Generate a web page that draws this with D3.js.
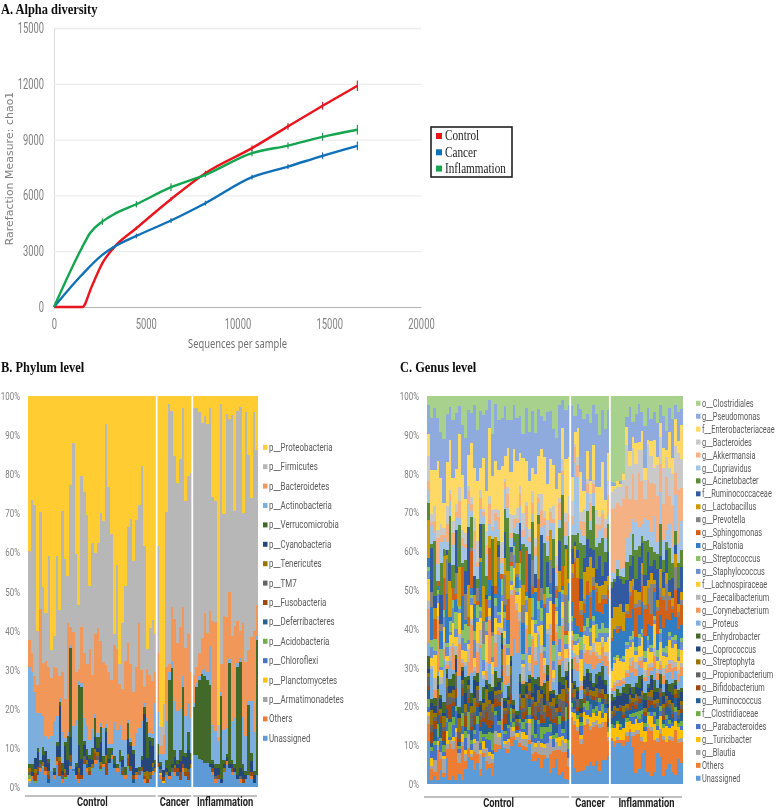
<!DOCTYPE html>
<html><head><meta charset="utf-8">
<style>
html,body{margin:0;padding:0;background:#fff}
svg{display:block}
text{font-family:"Roboto","Noto Sans",sans-serif}
</style>
<script src="https://cdn.jsdelivr.net/npm/d3@7/dist/d3.min.js"></script>
</head><body>
<svg id="c" width="778" height="809"></svg>
<script>
// ---------- Panel A values ----------
const seqControl=[0,400,1550,2050,2633,3233,4487,6376,8247,10790,12752,14640,16530];
const chaoControl=[0,0,0,1095,2350,3160,4235,5795,7195,8540,9710,10820,11895];
const errControl=[0,0,0,0,60,60,90,110,130,150,180,210,280];
const seqCancer=[0,1509,2633,3233,4487,6376,8247,10790,12752,14640,16530];
const chaoCancer=[0,1720,2800,3210,3820,4650,5580,6980,7550,8130,8665];
const errCancer=[0,40,60,60,130,130,130,130,130,180,230];
const seqInflam=[0,1509,1960,2633,3200,4487,6376,8247,10790,12752,14640,16530];
const chaoInflam=[0,3160,3965,4590,4950,5525,6440,7105,8270,8680,9150,9530];
const errInflam=[0,100,0,170,0,170,210,130,170,170,210,260];
const xTicksA=[0,5000,10000,15000,20000];
const yTicksA=[0,3000,6000,9000,12000,15000];
const legendA=["Control","Cancer","Inflammation"];
const coloursA=["#e8141c","#0f6fb8","#12a550"];
const groups=["Control","Cancer","Inflammation"];
const groupSizes=[47,13,24];
const pctTicks=[0,10,20,30,40,50,60,70,80,90,100];

// ---------- Panel B values (one per sample, % of reads; bottom of stack first) ----------
const phylumNames=["Unassigned","Others","p__Armatimonadetes","p__Planctomycetes","p__Chloroflexi","p__Acidobacteria","p__Deferribacteres","p__Fusobacteria","p__TM7","p__Tenericutes","p__Cyanobacteria","p__Verrucomicrobia","p__Actinobacteria","p__Bacteroidetes","p__Firmicutes","p__Proteobacteria"];
const phylumColours=["#5B9BD5","#ED7D31","#A5A5A5","#FFC000","#4472C4","#70AD47","#255E91","#9E480E","#636363","#997300","#264478","#43682B","#7CAFDD","#F1975A","#B7B7B7","#FFCD33"];
const pUnassigned=[1,2,1,3,4,5,3,1,4,2,6,3,1,2,3,5,4,2,1,2,6,4,3,5,6,7,4,5,3,6,7,5,4,6,3,2,5,4,1,2,3,4,1,1,2,3,4,
5,2,1,3,2,4,3,3,2,4,3,2,5,
8,8,7,7,6,6,5,3,1,2,1,4,6,5,3,4,2,1,1,2,3,2,1,3];
const pOthers=[0,1,0,0,1,0,1,0,0,1,1,0,1,0,0,1,0,1,1,0,0,1,0,0,1,0,0,1,0,0,1,0,1,0,0,1,0,0,0,1,0,0,1,0,0,1,0,
0,1,0,0,1,0,1,0,0,1,0,0,0,
0,0,0,0,0,0,0,1,1,0,0,0,1,0,1,0,0,1,0,0,0,1,0,0];
const pArmat=[0.5,0,0,0,0,0.5,0,0,0,0,0,0,0,0,0,0,0,0,0,0,0,0,0,0,0,0,0,0,0,0,0,0,0,0,0,0,0,0,0,0,0,0,0,0,0,0,0,
0,0,0,0,0,0,0,0,0,0,0,0,0,
0,0,0,0,0,0,0,0,0,0,0,0,0,0,0,0,0,0,0,0,0,0,0,0];
const pPlanct=[0.5,0,0,0,0,0,0,0,0,0,0,0,0,0,0,0,0,0,0,0,0,0,0,0,0,0,0,0,0,0,0,0,0,0,0,0,0,0,0,0,0,0,0,0,0,0,0,
0,0.5,0.5,0,0,0,0,0,0,0,0,0,0,
0,0,0,0,0,0,0,0,0,0,0,0,0,0,0,0,0,0,0,0,0,0,0,0];
const pChloro=[0,0,0,0,0,0,0,0,0,0,0,0,0,0,0,0,0.5,0,0,0,0,0,0,0,0,0,0,0,0,0,0,0,0,0,0,0,0,0,0,0,0,0,0,0,0,0,0,
0,0,0,0,0,0,0,0,0,0,0,0,0,
0,0,0,0,0,0,0,0,0,0,0,0,0,0,0,0,0,0,0,0,0,0,0,0];
const pAcido=[1,0,0.5,0,0,0,0,0,0,0,0,0,0,0.5,0,0,0,0,0,0,0,0,0,0,0,0,0.5,0,0,0,0,0,0,0,0,0,0.5,0,0,0,0,0,0,0,0,0,0,
0,0,0,0,0,0,0,0,0,0,0,0,0,
0,0,0,0,0,0,0,0,0,0,0,0,0,0,0,0,0,0,0,0,0,0,0,0];
const pDeferri=[0,0,0,1,0,0,0,1,0,0,0,0,0,0,0,1,0,0,0,0,0,1,0,0,0,0,0,0,0,0,1,0,0,0,0,0,0,0,1,0,0,0,0,0,0,1,0,
0,0,0,0,0,0,0,1,0,0,0,0,0,
0,0,0,0,0,0,0,0,0,0,0,0,0,0,0,0,0,0,0,0,0,0,0,0];
const pFuso=[0,0,2,1,0,0,1,1,0,0,1,4,0,1,0,2,0,0,2,1,1,0,1,0,2,0,1,0,3,0,0,0,0,0,1,0,2,1,1,0,0,1,1,1,0,0,0,
1,0,1,0,0,0,1,1,2,1,1,2,0,
0,0,0,0,0,0,0,1,0,1,0,0,0,0,1,0,0,0,1,0,0,1,0,0];
const pTM7=[1,0,0,0,1,0,0,0,0,0,0,0,1,0,0,0,0,0,0,0,1,0,0,0,0,1,0,0,0,0,0,0,0,0,1,0,0,0,0,0,1,0,0,0,1,0,0,
0,1,0,0,0,1,0,0,0,0,0,1,0,
0,0,0,0,0,0,0,0,1,0,0,0,0,0,0,0,0,1,0,0,0,0,0,0];
const pTeneri=[1,0,1,0,0,1,0,1,0,0,0,1,0,1,0,0,0,0,1,0,0,1,1,1,1,1,1,0,2,0,0,0,0,0,0,0,1,0,0,1,0,0,1,2,1,1,1,
0,0,0,1,0,0,1,0,0,0,1,0,1,
0,0,0,0,0,0,0,0,0,0,0,1,0,0,0,0,0,0,0,0,0,0,0,0];
const pCyano=[0,1,3,4,0,2,4,2,0,1,3,14,1,6,4,5,0,2,6,4,3,1,2,1,3,1,5,0,6,1,0,1,0,0,2,0,4,5,5,1,0,2,15,3,8,4,1,
2,1,2,1,1,1,2,1,3,2,3,5,1,
0,0,0,0,0,0,1,1,2,2,1,1,1,1,1,1,1,2,2,1,0,3,2,0];
const pVerruco=[1,2,0,1,1,2,0,1,0,1,1,1,2,1,6,25,0,1,16,18,1,2,1,3,5,3,4,2,1,3,1,2,1,3,1,2,4,1,1,0,1,1,2,9,1,2,1,
3,1,0,2,24,25,2,1,3,18,1,5,2,
12,17,20,22,22,21,20,1,1,1,20,1,1,27,1,1,28,28,2,1,18,2,1,35];
const pActino=[25,24,17,9,12,8,4,5,9,12,7,1,8,1,1,1,11,11,1,1,6,6,4,5,1,1,1,7,1,1,1,9,9,6,4,7,1,1,1,9,10,9,1,1,1,1,15,
8,2,4,10,2,2,13,13,11,3,10,8,9,
1,1,1,1,2,2,10,9,9,6,1,8,7,1,10,12,1,1,12,9,1,14,10,1];
const pBacter=[7,5,4,7,27,14,19,18,15,14,13,6,15,10,28,5,24,12,3,14,17,16,23,14,21,27,21,17,15,18,16,20,21,10,13,20,20,18,13,17,27,13,4,12,15,13,8,
15,2,5,14,2,14,22,18,22,18,18,19,12,
7,4,6,8,14,10,9,27,29,1,7,30,30,18,22,24,11,7,24,19,13,17,26,8];
const pFirmi=[23,40,44,14,25,20,12,28,7,8,30,18,41,36,12,40,48,30,17,38,42,39,16,34,21,22,33,36,61,47,37,3,22,5,17,19,30,35,32,38,30,52,37,5,12,15,10,
27,5,8,40,68,51,44,42,45,52,39,43,52,
67,65,61,55,50,53,52,32,32,3,63,27,55,46,57,30,54,59,28,64,50,37,56,40];
const pProteo=[40,27,28,60,30,50,55,40,65,62,43,58,29,42,46,25,12,40,55,20,25,31,48,38,41,38,30,32,7,23,35,62,44,65,58,48,34,30,40,32,28,18,39,62,60,55,62,
38,85,80,30,2,4,16,23,17,3,28,22,20,
3,3,4,7,5,7,3,26,28,85,2,31,5,6,5,30,4,3,30,4,15,27,4,14];

// ---------- Panel C values (bottom of stack first) ----------
const genusNames=["Unassigned","Others","g__Blautia","g__Turicibacter","g__Parabacteroides","f__Clostridiaceae","g__Ruminococcus","g__Bifidobacterium","g__Propionibacterium","o__Streptophyta","g__Coprococcus","g__Enhydrobacter","g__Proteus","g__Corynebacterium","g__Faecalibacterium","f__Lachnospiraceae","g__Staphylococcus","g__Streptococcus","g__Ralstonia","g__Sphingomonas","g__Prevotella","g__Lactobacillus","f__Ruminococcaceae","g__Acinetobacter","g__Cupriavidus","g__Akkermansia","g__Bacteroides","f__Enterobacteriaceae","g__Pseudomonas","o__Clostridiales"];
const genusColours=["#5B9BD5","#ED7D31","#A5A5A5","#FFC000","#4472C4","#70AD47","#255E91","#9E480E","#636363","#997300","#264478","#43682B","#7CAFDD","#F1975A","#B7B7B7","#FFCD33","#698ED0","#8CC168","#327DC2","#D26012","#848484","#CC9A00","#335AA1","#5A8A39","#A3C4E5","#F4B183","#C9C9C9","#FFD966","#8FAADC","#A9D18E"];
const gUnassigned=[10,1,2,1,4,2,6,1,2,1,3,1,4,6,7,3,5,2,7,3,4,2,8,9,10,11,9,8,10,12,9,10,8,10,6,5,6,4,7,5,3,4,6,2,3,1,1,
6,4,3,3,3,4,5,4,5,3,5,5,6,
13,12,13,13,12,12,14,10,3,4,8,9,3,2,3,8,6,2,4,5,3,2,6,5];
const gOthers=[4,3,1,7,3,1,2,10,7,10,3,8,2,2,1,4,2,2,1,2,1,3,2,1,2,0,1,2,1,0,1,1,1,1,2,2,1,3,1,0,5,4,2,6,5,6,3,
8,11,10,6,10,9,7,9,8,10,7,8,3,
1,2,1,1,2,2,1,3,11,9,3,2,11,12,8,3,5,9,7,6,8,10,4,5];
const gBlautia=[2,1,3,1,2,4,1,1,2,1,3,1,2,3,1,2,3,4,1,3,2,1,3,2,4,1,2,2,1,1,3,2,2,4,3,1,3,2,2,3,4,1,2,1,3,2,2,
0,1,1,1,0,1,1,1,1,1,1,0,1,
0,0,1,0,0,1,0,1,1,1,1,0,1,1,0,1,1,1,0,1,1,0,1,1];
const gTuricibacter=[1,2,0,1,0,1,3,0,1,1,0,2,1,0,1,1,0,1,2,0,1,1,0,1,0,1,1,0,1,1,0,2,1,1,0,1,0,1,1,0,1,0,1,2,1,1,0,
1,2,2,1,3,1,2,2,1,3,1,2,1,
3,4,4,3,4,3,2,2,3,2,4,3,2,3,4,2,3,2,4,2,3,2,3,2];
const gParab=[1,2,4,1,3,1,2,1,3,4,1,2,3,1,2,1,4,2,1,2,3,1,4,2,1,2,3,1,0,1,2,1,3,1,2,1,4,1,3,2,1,2,0,3,1,4,2,
1,1,0,2,1,1,3,0,1,2,1,1,0,
0,1,0,1,0,0,1,2,1,1,2,1,0,1,2,1,1,0,2,1,1,2,0,1];
const gClostridiaceae=[2,1,1,3,1,2,1,4,2,1,1,3,2,4,1,1,2,3,1,1,2,4,1,1,2,1,1,3,1,0,1,2,1,2,4,1,1,3,2,1,2,1,1,2,1,3,2,
1,0,1,1,1,2,0,1,1,1,2,0,1,
1,0,1,1,0,1,1,1,1,2,1,1,1,0,1,2,1,1,1,1,0,1,1,1];
const gRuminococcus=[2,1,3,2,4,1,2,1,3,2,1,4,1,2,3,1,2,1,3,2,1,2,1,4,1,2,3,1,1,0,2,1,1,2,1,3,2,1,1,2,1,3,2,1,2,1,5,
1,2,1,1,0,1,1,2,1,0,1,1,1,
2,3,3,4,3,2,1,2,1,2,3,2,1,2,1,3,2,1,2,3,1,2,1,2];
const gBifido=[1,3,2,1,2,3,1,4,1,2,1,2,3,1,1,2,1,2,1,3,2,1,2,1,1,3,1,2,0,1,1,2,1,1,3,1,1,2,1,2,3,1,2,1,1,2,4,
1,0,1,0,1,1,0,1,0,1,1,0,1,
0,1,0,1,1,0,2,1,1,1,0,1,2,1,1,0,1,1,1,0,1,1,0,1];
const gPropioni=[2,2,1,3,1,1,4,2,1,3,2,1,1,2,4,1,3,1,2,1,4,2,1,2,1,1,2,4,1,1,2,1,3,1,1,2,1,4,2,1,1,3,1,2,4,1,2,
1,1,2,0,1,1,1,0,1,1,0,1,1,
1,1,0,1,1,1,1,0,1,1,1,0,1,1,0,1,1,2,1,1,1,0,1,1];
const gStreptophyta=[1,4,1,2,1,3,2,1,2,1,4,1,2,1,2,3,1,1,2,4,1,2,1,1,3,1,1,2,1,1,1,3,1,2,1,1,3,1,2,4,1,2,1,1,3,2,1,
1,2,0,1,1,0,1,1,2,0,1,1,1,
1,1,1,0,2,1,1,1,2,0,1,1,1,2,1,1,0,1,1,1,2,1,1,1];
const gCoprococcus=[1,2,2,1,3,1,1,2,1,3,1,2,3,1,1,4,1,2,1,1,2,3,1,2,1,2,1,1,1,1,3,1,2,1,1,4,1,1,3,1,2,1,1,3,1,1,4,
3,1,2,1,2,3,2,1,1,3,2,2,1,
3,2,4,3,4,3,2,1,2,2,3,2,1,3,2,2,1,2,3,2,2,1,3,2];
const gEnhydro=[3,1,2,2,1,3,1,2,3,1,2,1,4,1,3,1,2,1,3,1,2,1,4,1,2,1,3,1,1,1,2,3,1,1,4,1,2,1,3,2,1,1,2,4,2,1,2,
2,1,1,2,1,1,2,1,2,1,3,1,2,
2,1,2,1,2,3,1,2,1,3,1,2,1,1,3,1,2,1,1,2,3,1,2,1];
const gProteus=[3,8,0,1,3,12,0,5,1,0,9,0,3,0,6,1,0,14,2,0,5,0,1,11,0,4,1,0,14,16,13,0,7,1,0,3,10,0,1,6,0,2,12,0,4,0,1,
2,3,4,2,3,1,2,3,2,2,1,3,4,
1,2,1,2,1,2,3,4,2,3,2,3,2,1,3,2,1,2,2,3,1,2,2,3];
const gCoryne=[8,0,2,12,0,3,1,0,6,0,9,1,0,3,14,0,5,1,0,2,11,0,6,1,0,12,2,13,11,12,0,1,6,0,10,1,0,8,2,0,15,0,3,1,9,0,2,
2,3,2,1,2,3,2,4,2,1,3,2,3,
1,2,1,2,1,1,2,3,2,1,2,1,2,1,3,2,1,2,1,2,3,1,2,2];
const gFaecali=[2,1,3,1,2,2,1,4,1,2,3,1,1,3,2,1,2,4,1,2,1,3,2,1,1,2,3,1,1,2,2,4,1,2,1,3,1,2,2,1,3,1,2,1,2,3,1,
1,1,2,1,2,0,1,2,1,1,1,1,2,
0,1,1,0,1,1,2,1,2,1,1,2,1,1,2,1,1,2,1,1,2,1,1,1];
const gLachno=[5,2,6,3,2,4,1,3,5,2,6,2,3,1,4,2,5,3,1,6,2,3,4,1,5,2,3,1,4,2,6,1,3,2,4,3,1,5,2,3,6,2,3,1,4,2,3,
1,2,3,5,2,3,1,4,2,3,1,2,3,
5,6,7,6,5,6,3,4,2,3,5,2,4,3,6,2,4,3,2,5,3,4,2,3];
const gStaph=[2,3,1,2,1,3,2,1,4,2,1,3,2,1,2,4,1,2,3,1,2,1,3,2,1,4,2,1,3,1,2,1,3,2,1,2,4,1,2,3,1,2,1,3,2,1,2,
2,1,1,2,1,2,3,1,1,2,1,2,1,
1,1,0,1,1,1,2,1,1,2,1,1,2,1,1,1,2,1,1,1,2,1,1,2];
const gStrepto=[1,2,3,1,5,2,1,3,2,4,1,2,5,3,1,2,3,1,4,2,1,5,2,1,3,2,1,3,2,1,4,2,1,3,5,1,2,3,1,2,1,4,2,3,1,2,5,
1,2,1,3,1,2,1,1,3,1,2,1,1,
0,1,1,0,1,1,1,2,1,1,1,2,1,1,1,2,1,1,2,1,1,1,2,1];
const gRalstonia=[2,9,0,1,5,0,11,1,0,3,0,8,1,0,2,6,0,12,0,1,4,0,1,10,0,2,7,0,1,3,0,9,1,0,1,6,0,2,11,0,3,1,0,8,1,0,4,
3,4,2,1,3,5,2,6,3,4,2,5,6,
8,9,7,9,8,7,5,6,3,5,7,4,3,5,6,4,3,5,7,3,6,4,5,3];
const gSphingo=[0,0,5,1,0,9,0,0,3,1,0,7,0,2,11,0,1,0,0,4,8,0,2,0,1,0,6,1,0,0,3,0,10,0,2,0,5,0,1,0,0,9,2,0,5,1,0,
5,14,12,4,2,3,5,1,4,2,3,1,2,
1,0,1,1,0,1,6,5,8,2,4,7,5,3,1,6,4,7,2,5,1,6,3,5];
const gPrevotella=[0,4,0,0,2,0,8,0,0,5,0,0,7,0,1,0,3,0,6,0,0,1,0,4,0,9,0,2,0,1,0,5,0,0,7,0,0,3,0,0,6,0,1,0,0,8,0,
1,1,0,1,1,0,1,2,1,0,1,1,1,
0,0,1,0,0,1,1,1,1,2,3,1,4,8,1,1,2,1,7,1,1,5,1,1];
const gLacto=[9,0,3,0,0,6,1,10,0,0,11,0,0,7,0,2,0,1,9,0,3,0,12,0,0,5,8,0,0,3,0,6,0,9,0,1,13,0,3,0,8,0,0,5,0,10,1,
2,3,5,2,6,3,8,2,1,4,2,3,2,
6,7,6,7,6,2,3,2,4,2,3,5,2,3,1,2,4,2,3,1,2,3,2,2];
const gFRumino=[0,12,3,0,8,0,1,5,0,10,0,0,6,13,0,4,0,9,0,1,0,11,0,3,0,8,0,1,0,0,7,0,0,11,0,3,0,13,0,5,0,9,0,7,0,1,0,
3,1,2,5,3,6,2,4,3,7,2,4,5,
9,8,10,8,9,7,4,6,3,9,5,3,7,2,5,8,3,4,6,3,5,2,4,6];
const gAcineto=[4,1,14,0,9,2,0,13,6,0,12,1,3,0,9,0,2,0,16,4,0,11,0,1,0,7,15,0,2,8,0,12,1,0,10,0,2,0,14,1,0,7,0,3,18,0,10,
3,2,4,8,3,6,4,10,5,3,8,2,6,
2,1,2,1,2,5,3,6,8,3,2,9,3,5,2,4,7,3,2,8,4,3,6,4];
const gCupri=[3,5,2,4,6,3,2,4,5,3,2,4,3,5,2,6,3,4,2,5,3,2,4,3,2,6,3,2,1,3,4,2,5,3,2,4,3,2,5,3,2,4,3,2,5,2,3,
2,18,14,3,2,4,2,3,2,3,2,3,2,
3,2,3,2,3,7,6,4,8,5,3,6,5,4,9,3,7,5,3,6,4,8,5,7];
const gAkker=[2,1,3,6,2,1,4,2,3,1,5,2,1,3,2,4,1,3,1,2,5,1,2,3,1,2,4,1,2,1,3,2,5,1,3,2,1,4,2,1,3,1,2,4,1,3,2,
2,4,3,2,3,2,4,2,3,1,3,2,4,
19,21,18,20,22,15,9,12,6,14,11,5,10,13,8,12,6,9,14,7,11,5,13,8];
const gBacter=[6,2,4,2,3,2,4,1,3,2,4,2,3,1,2,3,5,2,1,3,2,4,1,2,3,1,2,4,1,3,2,5,1,2,3,2,1,4,2,3,1,3,2,1,3,2,4,
3,1,2,2,3,1,2,1,3,2,1,2,3,
5,6,5,6,6,12,9,7,10,6,8,5,9,7,4,8,6,9,5,7,8,6,9,7];
const gEntero=[5,12,9,16,13,7,10,14,11,8,15,13,9,7,16,11,14,6,13,9,17,8,12,10,14,7,11,9,15,13,8,16,10,12,6,14,9,11,15,7,13,10,16,6,8,12,9,
5,3,7,9,4,6,3,8,5,7,10,4,6,
2,1,2,1,2,5,4,3,6,2,5,3,1,4,7,2,3,5,2,9,4,6,3,8];
const gPseudo=[7,14,16,10,13,18,11,9,15,13,8,12,16,10,9,14,12,15,11,18,7,10,14,13,9,15,8,11,10,12,9,7,13,12,15,9,11,8,10,14,13,9,12,16,7,11,12,
15,4,6,14,16,8,13,9,16,12,11,15,9,
1,1,0,1,0,3,12,4,8,10,5,11,8,6,7,9,4,8,5,6,10,3,7,4];
const gClostridiales=[2,6,3,5,10,12,4,3,6,4,3,7,11,3,5,2,8,4,5,3,1,9,2,6,4,3,7,5,2,6,5,11,3,9,4,8,3,5,7,3,4,8,10,2,1,3,2,
2,5,2,3,5,4,6,2,4,9,3,7,3,
26,28,27,27,25,6,3,7,5,2,4,8,3,6,4,7,2,5,9,3,6,2,4,3];

const phylumValues=[pUnassigned,pOthers,pArmat,pPlanct,pChloro,pAcido,pDeferri,pFuso,pTM7,pTeneri,pCyano,pVerruco,pActino,pBacter,pFirmi,pProteo];
const genusValues=[gUnassigned,gOthers,gBlautia,gTuricibacter,gParab,gClostridiaceae,gRuminococcus,gBifido,gPropioni,gStreptophyta,gCoprococcus,gEnhydro,gProteus,gCoryne,gFaecali,gLachno,gStaph,gStrepto,gRalstonia,gSphingo,gPrevotella,gLacto,gFRumino,gAcineto,gCupri,gAkker,gBacter,gEntero,gPseudo,gClostridiales];

const svg=d3.select("#c");
const defs=svg.append("defs");
defs.append("filter").attr("id","soft").attr("filterUnits","userSpaceOnUse").attr("x",0).attr("y",0).attr("width",778).attr("height",809)
  .append("feGaussianBlur").attr("stdDeviation",0.45);
const root=svg.append("g").attr("filter","url(#soft)");
const SERIF='"Liberation Serif",serif';

// narrow a text horizontally about an x position
const squeeze=(x,k)=>`translate(${x},0) scale(${k},1) translate(${-x},0)`;
function squeezeTicks(sel,k){sel.each(function(){const t=d3.select(this);t.attr("transform",squeeze(+t.attr("x")||0,k));});}

function title(s,x,y){root.append("text").attr("x",x).attr("y",y).style("font-family",SERIF)
  .attr("font-size",15).attr("font-weight","bold").attr("fill","#111").attr("transform",squeeze(x,0.83)).text(s);}
title("A. Alpha diversity",1,14);
title("B. Phylum level",1,372);
title("C. Genus level",400,372);

// ----- Panel A -----
const xA=d3.scaleLinear().domain([0,20000]).range([54,421]);
const yA=d3.scaleLinear().domain([0,15000]).range([307,28]);
const gy=root.append("g").attr("transform","translate(54,0)")
  .call(d3.axisLeft(yA).tickValues(yTicksA).tickSize(-367).tickPadding(10).tickFormat(d3.format("d")));
gy.select(".domain").attr("stroke","#dcdcdc");
gy.selectAll(".tick line").attr("stroke","#ececec").attr("stroke-width",1.3);
gy.selectAll("text").attr("font-size",14).attr("fill","#808080");
squeezeTicks(gy.selectAll("text"),0.67);
const gx=root.append("g").attr("transform","translate(0,307)")
  .call(d3.axisBottom(xA).tickValues(xTicksA).tickSize(0).tickPadding(12).tickFormat(d3.format("d")));
gx.select(".domain").attr("stroke","#b8b8b8").attr("stroke-width",1.2);
gx.selectAll("text").attr("font-size",14).attr("fill","#808080");
squeezeTicks(gx.selectAll("text"),0.67);
root.append("text").attr("x",237.5).attr("y",348).attr("text-anchor","middle").attr("font-size",13).attr("fill","#707070")
  .style("font-family",'"Noto Sans",sans-serif').attr("transform",squeeze(237.5,0.72)).text("Sequences per sample");
root.append("text").attr("transform","translate(13,168.5) rotate(-90)").attr("text-anchor","middle").attr("font-size",10.8).attr("fill","#808080")
  .style("font-family",'"DejaVu Sans",sans-serif').style("letter-spacing","0.1px").text("Rarefaction Measure: chao1");

const lineA=d3.line().x(d=>xA(d[0])).y(d=>yA(d[1])).curve(d3.curveMonotoneX);
const seriesA=[[seqControl,chaoControl,errControl],[seqCancer,chaoCancer,errCancer],[seqInflam,chaoInflam,errInflam]];
seriesA.forEach((s,i)=>{
  const pts=s[0].map((v,k)=>[v,s[1][k],s[2][k]]);
  root.append("g").selectAll("line").data(pts.filter(p=>p[2]>0)).join("line")
    .attr("x1",p=>xA(p[0])).attr("x2",p=>xA(p[0])).attr("y1",p=>yA(p[1]-p[2])).attr("y2",p=>yA(p[1]+p[2]))
    .attr("stroke",d3.color(coloursA[i]).darker(0.9)).attr("stroke-width",1);
  root.append("path").datum(pts).attr("d",lineA).attr("fill","none").attr("stroke",coloursA[i]).attr("stroke-width",2.4);
});
root.append("rect").attr("x",431).attr("y",127).attr("width",81).attr("height",50).attr("fill","#fff").attr("stroke","#222").attr("stroke-width",1.6);
legendA.forEach((n,i)=>{
  const y=136+i*16.3;
  root.append("rect").attr("x",436).attr("y",y-3).attr("width",6).attr("height",6).attr("fill",coloursA[i]);
  root.append("text").attr("x",445).attr("y",y+4.5).attr("font-size",14).attr("fill","#222").style("font-family",SERIF)
    .attr("transform",squeeze(445,0.8)).text(n);
});

// ----- Stacked panels -----
function stacked(values,colours,names,cfg){
  const n=values[0].length;
  const rows=d3.range(n).map(i=>{const r={i};names.forEach((nm,k)=>r[nm]=values[k][i]||0);return r;});
  const stack=d3.stack().keys(names).offset(d3.stackOffsetExpand)(rows);
  const x=d3.scaleBand().domain(d3.range(n)).range([cfg.x0,cfg.x1]).paddingInner(0).paddingOuter(0);
  const y=d3.scaleLinear().domain([0,1]).range([cfg.y0,cfg.y1]);
  const g=root.append("g").attr("shape-rendering","crispEdges");
  g.selectAll("g").data(stack).join("g").attr("fill",(d,k)=>colours[k])
    .selectAll("rect").data(d=>d).join("rect")
    .attr("x",d=>x(d.data.i)).attr("width",x.bandwidth()+0.4)
    .attr("y",d=>y(d[1])).attr("height",d=>Math.max(0,y(d[0])-y(d[1])));
  let cum=0;
  groupSizes.forEach((sz,gi)=>{
    const a=x(cum), b=cum+sz>=n?cfg.x1:x(cum+sz);
    if(gi>0) root.append("line").attr("x1",a).attr("x2",a).attr("y1",cfg.y1-1).attr("y2",cfg.y0+1).attr("stroke","#fff").attr("stroke-width",1.8);
    root.append("line").attr("x1",(gi==0?a-3:a+1)).attr("x2",b-1).attr("y1",cfg.rule).attr("y2",cfg.rule).attr("stroke","#808080").attr("stroke-width",1);
    const cx=(a+b)/2;
    root.append("text").attr("x",cx).attr("y",cfg.rule+10).attr("text-anchor","middle").attr("font-size",12).attr("font-weight","bold").attr("fill","#222")
      .attr("transform",squeeze(cx,0.78)).text(groups[gi]);
    cum+=sz;
  });
  const ya=d3.scaleLinear().domain([0,100]).range([cfg.y0,cfg.y1]);
  const ax=root.append("g").attr("transform",`translate(${cfg.tickX},0)`)
    .call(d3.axisLeft(ya).tickValues(pctTicks).tickSize(0).tickPadding(0).tickFormat(d=>d+"%"));
  ax.select(".domain").remove();
  ax.selectAll("text").attr("font-size",11).attr("fill","#808080");
  squeezeTicks(ax.selectAll("text"),0.72);
  const order=d3.range(names.length).reverse();
  order.forEach((k,r)=>{
    const yy=cfg.legY+r*cfg.legStep, tx=cfg.legX+6;
    root.append("rect").attr("x",cfg.legX).attr("y",yy-2.5).attr("width",4.5).attr("height",5).attr("fill",colours[k]);
    root.append("text").attr("x",tx).attr("y",yy+3.6).attr("font-size",11).attr("fill","#5a5a5a")
      .attr("transform",squeeze(tx,cfg.legK)).text(names[k]);
  });
}
stacked(phylumValues,phylumColours,phylumNames,{x0:28,x1:258,y0:787,y1:396,rule:796,tickX:20,legX:263,legY:447.3,legStep:19.4,legK:0.72});
stacked(genusValues,genusColours,genusNames,{x0:427,x1:683,y0:784,y1:396,rule:797,tickX:419,legX:696,legY:403.3,legStep:12.93,legK:0.67});
</script>
</body></html>
